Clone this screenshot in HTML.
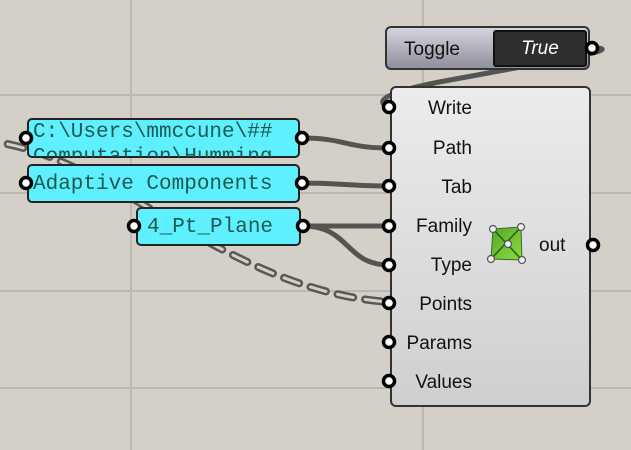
<!DOCTYPE html>
<html><head><meta charset="utf-8"><style>
html,body{margin:0;padding:0;width:631px;height:450px;overflow:hidden;background:#d4d0c8}
svg{display:block}
.mono{font-family:"Liberation Mono",monospace;font-size:21px;fill:#1e5a50}
.lab{font-family:"Liberation Sans",sans-serif;font-size:19px;fill:#111;text-anchor:end}
</style></head><body>
<svg width="631" height="450" viewBox="0 0 631 450" xmlns="http://www.w3.org/2000/svg">
<defs>
<linearGradient id="comp" x1="0" y1="0" x2="0" y2="1"><stop offset="0" stop-color="#ececec"/><stop offset="1" stop-color="#cfcfcf"/></linearGradient>
<linearGradient id="tog" x1="0" y1="0" x2="0" y2="1"><stop offset="0" stop-color="#d6d6de"/><stop offset="1" stop-color="#8e8e9c"/></linearGradient>
<linearGradient id="grn" x1="0" y1="0" x2="1" y2="1"><stop offset="0" stop-color="#4fa82a"/><stop offset="1" stop-color="#8fdc3c"/></linearGradient>
<clipPath id="c1"><rect x="28" y="119" width="271" height="38" rx="4"/></clipPath>
</defs>
<g stroke="#bcb8b0" stroke-width="2">
<line x1="131" y1="0" x2="131" y2="450"/><line x1="423" y1="0" x2="423" y2="450"/>
<line x1="0" y1="95" x2="631" y2="95"/><line x1="0" y1="193" x2="631" y2="193"/>
<line x1="0" y1="291" x2="631" y2="291"/><line x1="0" y1="388" x2="631" y2="388"/>
</g>
<path d="M -20 140 C 110 150 220 290 389 302" fill="none" stroke="#5a5854" stroke-width="8" stroke-dasharray="16 12" stroke-linecap="round"/>
<path d="M -20 140 C 110 150 220 290 389 302" fill="none" stroke="#d4d0c8" stroke-width="3" stroke-dasharray="16 12" stroke-linecap="round"/>
<g fill="none" stroke="#565450" stroke-width="5">
<path d="M 302 138 C 345 138 345 148 389 148"/>
<path d="M 302 183 C 345 183 345 186 389 186"/>
<path d="M 303 226 L 389 226"/>
<path d="M 303 226 C 350 226 345 265 389 265"/>
<path d="M 593 48 C 612 48 600 52 570 58 L 450 80 C 395 90 370 100 389 107"/>
</g>
<rect x="391" y="87" width="199" height="319" rx="5" fill="url(#comp)" stroke="#333" stroke-width="2"/>
<g fill="#fff" stroke="#000" stroke-width="3.5">
<circle cx="389" cy="107" r="5.5"/><circle cx="389" cy="148" r="5.5"/><circle cx="389" cy="186" r="5.5"/>
<circle cx="389" cy="226" r="5.5"/><circle cx="389" cy="265" r="5.5"/><circle cx="389" cy="303" r="5.5"/>
<circle cx="389" cy="342" r="5.5"/><circle cx="389" cy="381" r="5.5"/><circle cx="593" cy="245" r="5.5"/>
</g>
<g class="lab">
<text x="472" y="114">Write</text><text x="472" y="154">Path</text><text x="472" y="193">Tab</text>
<text x="472" y="232">Family</text><text x="472" y="271">Type</text><text x="472" y="310">Points</text>
<text x="472" y="349">Params</text><text x="472" y="388">Values</text>
</g>
<text x="539" y="251" font-family="Liberation Sans,sans-serif" font-size="19" fill="#111">out</text>
<polygon points="493,229 521,227 522,260 491,259" fill="url(#grn)" stroke="#3a6a20" stroke-width="1"/>
<g stroke="#2f5a1a" stroke-width="1.5"><line x1="493" y1="229" x2="522" y2="260"/><line x1="521" y1="227" x2="491" y2="259"/></g>
<g fill="#eee" stroke="#555" stroke-width="1.2">
<circle cx="493" cy="229" r="3.5"/><circle cx="521" cy="227" r="3.5"/><circle cx="491" cy="259" r="3.5"/><circle cx="522" cy="260" r="3.5"/><circle cx="508" cy="244" r="3.5"/>
</g>
<rect x="386" y="27" width="203" height="42" rx="5" fill="url(#tog)" stroke="#333" stroke-width="2"/>
<rect x="494" y="31" width="92" height="35" rx="2" fill="#2e2e2e" stroke="#111" stroke-width="2"/>
<text x="404" y="55" font-family="Liberation Sans,sans-serif" font-size="19" fill="#111">Toggle</text>
<text x="540" y="54" font-family="Liberation Sans,sans-serif" font-size="19" font-style="italic" fill="#fff" text-anchor="middle">True</text>
<circle cx="592" cy="48" r="5.5" fill="#fff" stroke="#000" stroke-width="3.5"/>
<g stroke="#222" stroke-width="2" fill="#5ff0ff">
<rect x="28" y="119" width="271" height="38" rx="4"/>
<rect x="28" y="165" width="271" height="37" rx="4"/>
<rect x="137" y="208" width="163" height="37" rx="4"/>
</g>
<g clip-path="url(#c1)"><text class="mono" x="33" y="137">C:\Users\mmccune\##</text><text class="mono" x="33" y="162">Computation\Humming</text></g>
<text class="mono" x="33" y="189">Adaptive Components</text>
<text class="mono" x="147" y="232">4_Pt_Plane</text>
<g fill="#fff" stroke="#000" stroke-width="3.5">
<circle cx="26" cy="138" r="5.5"/><circle cx="302" cy="138" r="5.5"/>
<circle cx="26" cy="183" r="5.5"/><circle cx="302" cy="183" r="5.5"/>
<circle cx="134" cy="226" r="5.5"/><circle cx="303" cy="226" r="5.5"/>
</g>
</svg>
</body></html>
